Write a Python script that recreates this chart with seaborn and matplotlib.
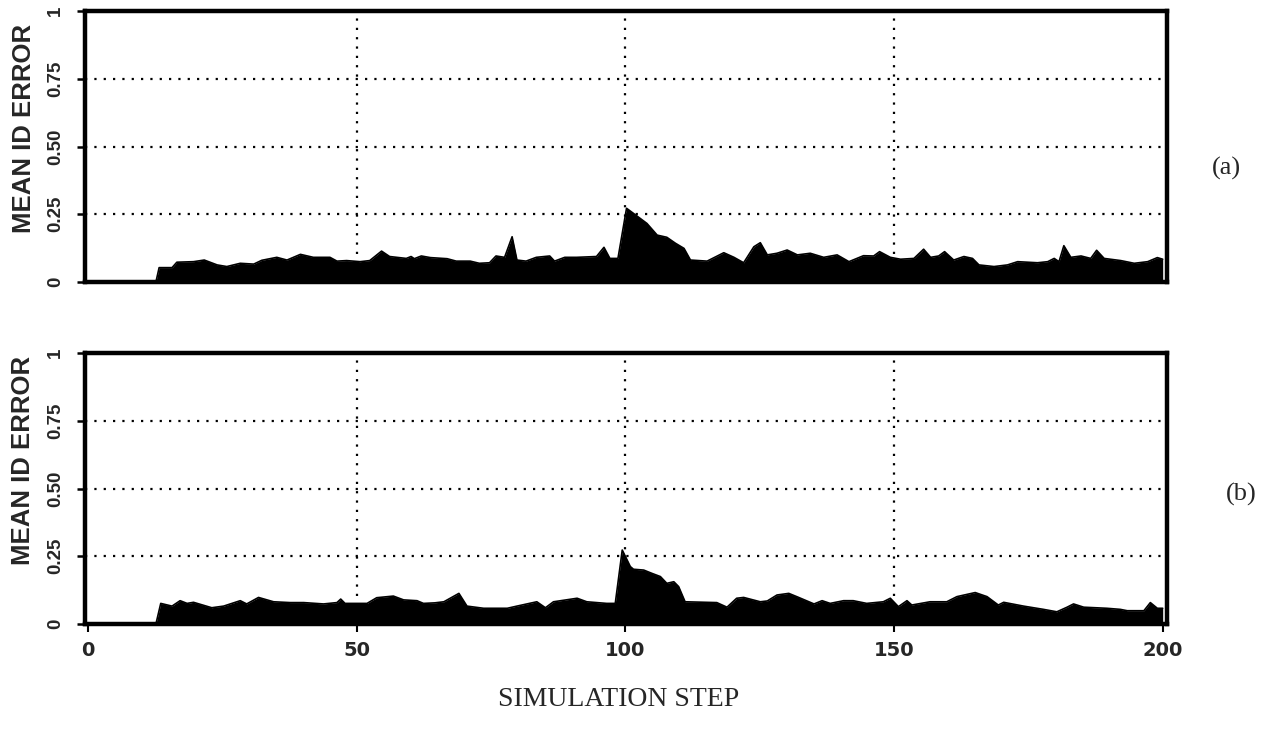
import numpy as np
import pandas as pd
import matplotlib
matplotlib.use("Agg")
import matplotlib.pyplot as plt
import seaborn as sns

# ---------------- data ----------------
steps_a = [0, 12.6, 13.2, 15.6, 16.5, 19.6, 21.6, 24.0, 25.8, 28.3, 30.8, 32.3, 35.1, 37.0,
           39.5, 41.9, 45.0, 46.3, 48.1, 50.6, 52.4, 54.6, 56.1, 59.2, 60.1, 60.7, 62.0,
           63.7, 66.8, 68.5, 71.1, 72.8, 74.7, 75.9, 77.5, 78.9, 79.8, 81.5, 83.4, 85.9,
           86.8, 88.7, 90.9, 94.6, 96.0, 97.1, 98.6, 100.2, 101.5, 104.0, 105.9, 107.7,
           109.3, 110.9, 112.1, 115.2, 118.3, 120.2, 122.0, 123.9, 125.1, 126.4, 128.2,
           130.1, 132.0, 134.4, 136.9, 139.4, 141.6, 144.3, 146.2, 147.3, 149.3, 151.2,
           153.7, 155.5, 156.8, 158.3, 159.4, 161.1, 163.0, 164.6, 165.8, 168.6, 171.1,
           173.0, 176.7, 178.6, 179.8, 180.7, 181.6, 182.9, 184.8, 186.6, 187.7, 189.1,
           192.2, 194.7, 197.2, 199.0, 200.0]
error_a = [0, 0, 0.053, 0.053, 0.073, 0.075, 0.081, 0.063, 0.057, 0.069, 0.066, 0.080, 0.091,
           0.081, 0.102, 0.091, 0.091, 0.077, 0.079, 0.075, 0.079, 0.114, 0.094, 0.087, 0.094,
           0.086, 0.096, 0.090, 0.086, 0.077, 0.077, 0.069, 0.071, 0.096, 0.091, 0.167, 0.081,
           0.077, 0.091, 0.096, 0.077, 0.091, 0.091, 0.094, 0.128, 0.087, 0.087, 0.272, 0.253,
           0.216, 0.173, 0.165, 0.143, 0.124, 0.081, 0.077, 0.108, 0.091, 0.071, 0.130, 0.145,
           0.100, 0.106, 0.118, 0.100, 0.106, 0.091, 0.100, 0.075, 0.097, 0.096, 0.112, 0.091,
           0.084, 0.087, 0.121, 0.091, 0.096, 0.112, 0.081, 0.094, 0.087, 0.063, 0.057, 0.063,
           0.075, 0.071, 0.075, 0.087, 0.075, 0.134, 0.091, 0.096, 0.087, 0.117, 0.087, 0.079,
           0.069, 0.075, 0.090, 0.084]

steps_b = [0, 12.6, 13.5, 15.6, 17.1, 18.4, 19.6, 23.0, 25.2, 28.3, 29.5, 31.7, 34.5, 37.6,
           40.1, 43.8, 46.3, 47.0, 47.8, 51.9, 53.7, 56.8, 58.7, 61.2, 62.4, 64.5, 66.2,
           69.0, 70.5, 73.6, 78.0, 79.8, 83.5, 85.1, 86.6, 91.0, 92.8, 96.5, 98.1, 99.4,
           100.9, 101.5, 103.4, 104.9, 106.5, 107.7, 109.0, 109.9, 111.1, 117.0, 118.9,
           120.7, 122.0, 125.1, 126.4, 128.2, 130.4, 132.0, 135.1, 136.6, 138.1, 140.6,
           142.4, 144.9, 148.0, 149.3, 150.8, 152.4, 153.3, 156.7, 159.8, 161.7, 165.1,
           167.3, 169.4, 170.4, 174.1, 177.8, 180.3, 182.2, 183.4, 185.3, 189.6, 192.1,
           193.4, 196.5, 197.7, 199.0, 200.0]
error_b = [0, 0, 0.076, 0.066, 0.086, 0.076, 0.080, 0.060, 0.066, 0.086, 0.074, 0.098, 0.082,
           0.079, 0.079, 0.074, 0.079, 0.092, 0.076, 0.076, 0.097, 0.103, 0.089, 0.086, 0.076,
           0.078, 0.082, 0.113, 0.066, 0.058, 0.058, 0.066, 0.082, 0.060, 0.082, 0.095, 0.082,
           0.076, 0.076, 0.273, 0.212, 0.202, 0.199, 0.187, 0.175, 0.150, 0.156, 0.138, 0.082,
           0.079, 0.062, 0.095, 0.098, 0.082, 0.085, 0.107, 0.113, 0.100, 0.074, 0.086, 0.076,
           0.086, 0.086, 0.076, 0.082, 0.095, 0.064, 0.086, 0.070, 0.082, 0.082, 0.101, 0.116,
           0.101, 0.070, 0.080, 0.066, 0.054, 0.045, 0.062, 0.074, 0.062, 0.058, 0.054, 0.049,
           0.049, 0.079, 0.058, 0.058]

y_ticks = [0, 0.25, 0.50, 0.75, 1]
y_tick_labels = ["0", "0.25", "0.50", "0.75", "1"]
x_ticks = [0, 50, 100, 150, 200]
x_tick_labels = ["0", "50", "100", "150", "200"]
grid_x = [50, 100, 150]
grid_y = [0.25, 0.50, 0.75]
panel_labels = ["(a)", "(b)"]

# ---------------- plot ----------------
sns.set_style("white")
W, H = 1271, 731
fig = plt.figure(figsize=(W / 100, H / 100), dpi=100)

def fig_rect(left, top, right, bottom):
    return [left / W, 1 - bottom / H, (right - left) / W, (bottom - top) / H]

ax1 = fig.add_axes(fig_rect(85, 11, 1167, 282))
ax2 = fig.add_axes(fig_rect(85, 353, 1167, 624))

dots = (0, (1, 3.2))
sans = "Liberation Sans"

for ax, xs, ys in [(ax1, steps_a, error_a), (ax2, steps_b, error_b)]:
    df = pd.DataFrame({"step": xs, "error": ys})
    ax.fill_between(df["step"], 0, df["error"], color="black", linewidth=0, zorder=3)
    sns.lineplot(data=df, x="step", y="error", ax=ax, color="black", linewidth=1.2,
                 zorder=4, estimator=None, sort=False)
    for gx in grid_x:
        ax.axvline(gx, color="black", linestyle=dots, linewidth=1.6, zorder=1)
    for gy in grid_y:
        ax.axhline(gy, color="black", linestyle=dots, linewidth=1.6, zorder=1)
    ax.set_xlim(-0.6, 200.8)
    ax.set_ylim(0, 1)
    for sp in ax.spines.values():
        sp.set_visible(True)
        sp.set_linewidth(3.2)
        sp.set_color("black")
        sp.set_zorder(5)
    ax.set_yticks(y_ticks)
    ax.set_yticklabels(y_tick_labels, rotation=90, va="center",
                       fontfamily=sans, fontweight="bold", fontsize=13.5)
    ax.tick_params(axis="y", left=True, direction="out", length=6, width=1.8, pad=9,
                   color="black")
    ax.set_xlabel("")
    ax.set_ylabel("MEAN ID ERROR", fontfamily=sans, fontweight="bold", fontsize=18.5,
                  va="center", ha="center")

ax1.set_xticks([])
ax1.yaxis.set_label_coords(-0.0564, 0.568)
ax2.yaxis.set_label_coords(-0.0573, 0.605)

ax2.set_xticks(x_ticks)
ax2.set_xticklabels(x_tick_labels, fontfamily="DejaVu Sans", fontweight="bold", fontsize=14)
ax2.tick_params(axis="x", bottom=True, direction="out", length=6, width=1.5, pad=6,
                color="black")

fig.text(619 / W, 1 - 700 / H, "SIMULATION STEP", fontfamily="Liberation Serif",
         fontsize=20, ha="center", va="center")
fig.text(1226 / W, 1 - 168 / H, panel_labels[0], fontfamily="Liberation Serif",
         fontsize=19, ha="center", va="center")
fig.text(1241 / W, 1 - 494 / H, panel_labels[1], fontfamily="Liberation Serif",
         fontsize=19, ha="center", va="center")

fig.savefig("out.png", dpi=100)
